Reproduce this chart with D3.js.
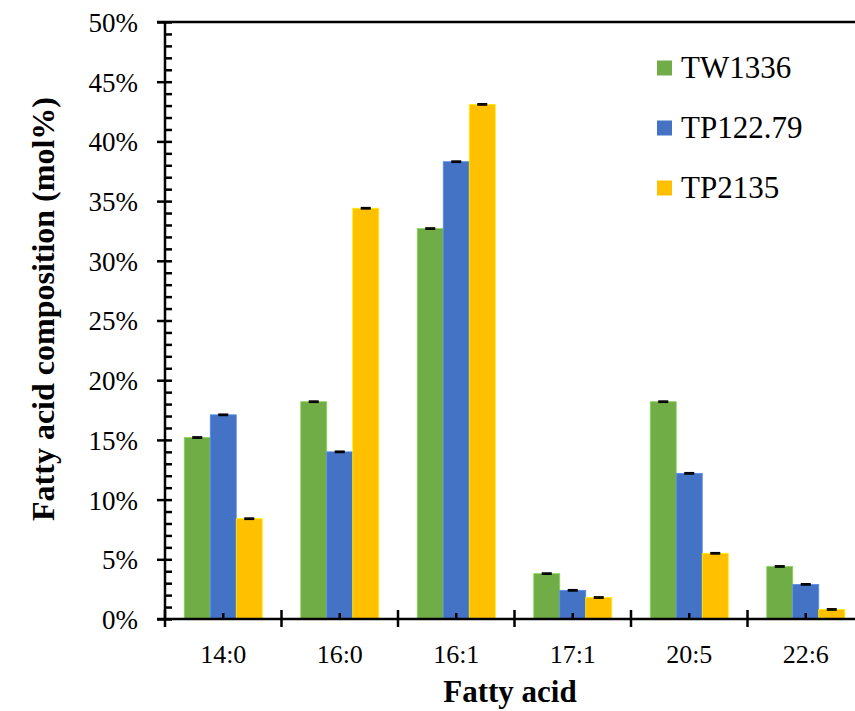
<!DOCTYPE html>
<html>
<head>
<meta charset="utf-8">
<script src="https://cdn.jsdelivr.net/npm/d3@7"></script>
<style>
  html, body { margin: 0; padding: 0; background: #fff; }
  svg text { font-family: "Liberation Serif", "Times New Roman", serif; }
  .axis path { display: none; }
  .axis line { stroke: #000; stroke-width: 2.5; }
  .tick-label text { fill: #000; font-size: 27px; font-family: "Liberation Serif", "Times New Roman", serif; }
</style>
</head>
<body>
<svg id="chart" width="855" height="711"></svg>
<script>
const FONT = "Liberation Serif, Times New Roman, serif";
const categories = ["14:0", "16:0", "16:1", "17:1", "20:5", "22:6"];
const seriesNames = ["TW1336", "TP122.79", "TP2135"];
const seriesColors = ["#70AD47", "#4472C4", "#FFC000"];

// mol% values
const tw1336 = [15.2, 18.2, 32.7, 3.8, 18.2, 4.4];
const tp12279 = [17.1, 14.0, 38.3, 2.4, 12.2, 2.9];
const tp2135 = [8.4, 34.4, 43.1, 1.8, 5.5, 0.8];

// error bars are tiny, just visible as caps
const errTw1336 = [0.05, 0.05, 0.05, 0.05, 0.05, 0.05];
const errTp12279 = [0.05, 0.05, 0.05, 0.05, 0.05, 0.05];
const errTp2135 = [0.05, 0.05, 0.05, 0.05, 0.05, 0.05];

const yMajorTicks = [0, 5, 10, 15, 20, 25, 30, 35, 40, 45, 50];
const yMinorTicks = d3.range(0, 51, 1);

const values = [tw1336, tp12279, tp2135];
const errors = [errTw1336, errTp12279, errTp2135];

const rows = [];
categories.forEach((cat, i) => {
  seriesNames.forEach((name, s) => {
    rows.push({ cat, name, color: seriesColors[s], value: values[s][i], err: errors[s][i] });
  });
});

const svg = d3.select("#chart");
const W = 855;
const axisX = 165, axisY = 619, topY = 22;

const y = d3.scaleLinear().domain([0, 50]).range([axisY, topY]);

const x0 = d3.scaleBand()
  .domain(categories)
  .range([axisX, axisX + 6 * 116.5])
  .padding(0);

const x1 = d3.scaleBand()
  .domain(seriesNames)
  .range([0, x0.bandwidth()])
  .paddingInner(0)
  .paddingOuter(0.74);

// bars
svg.append("g")
  .selectAll("rect")
  .data(rows)
  .join("rect")
  .attr("x", d => x0(d.cat) + x1(d.name))
  .attr("y", d => y(d.value))
  .attr("width", x1.bandwidth())
  .attr("height", d => y(0) - y(d.value))
  .attr("fill", d => d.color)
  .attr("stroke", d => d3.color(d.color).brighter(0.6))
  .attr("stroke-width", 0.8);

// error bars
const eb = svg.append("g").attr("stroke", "#000").attr("stroke-width", 1.6);
rows.forEach(d => {
  const cx = x0(d.cat) + x1(d.name) + x1.bandwidth() / 2;
  [d.value + d.err, d.value - d.err].forEach(v => {
    eb.append("line")
      .attr("x1", cx - 5).attr("x2", cx + 5)
      .attr("y1", y(v)).attr("y2", y(v));
  });
  eb.append("line")
    .attr("x1", cx).attr("x2", cx)
    .attr("y1", y(d.value + d.err)).attr("y2", y(d.value - d.err));
});

// top border line at 50%
svg.append("line")
  .attr("x1", 157).attr("x2", W)
  .attr("y1", y(50)).attr("y2", y(50))
  .attr("stroke", "#000").attr("stroke-width", 2.5);

// y axis: major ticks crossing, labels on the left
svg.append("g")
  .attr("class", "axis tick-label")
  .attr("transform", `translate(${axisX},0)`)
  .call(d3.axisLeft(y).tickValues(yMajorTicks).tickSize(8).tickPadding(19).tickFormat(d => d + "%"))
  .call(g => g.attr("font-family", FONT).selectAll("text").attr("dy", "0.35em"));

svg.append("g")
  .attr("class", "axis")
  .attr("transform", `translate(${axisX},0)`)
  .call(d3.axisRight(y).tickValues(yMinorTicks).tickSize(7).tickFormat(""));

svg.append("line")
  .attr("x1", axisX).attr("x2", axisX)
  .attr("y1", y(0) + 1).attr("y2", y(50))
  .attr("stroke", "#000").attr("stroke-width", 2.5);

// x axis line
svg.append("line")
  .attr("x1", 157).attr("x2", W)
  .attr("y1", axisY).attr("y2", axisY)
  .attr("stroke", "#000").attr("stroke-width", 2.5);

// small ticks at category centres, pointing up
svg.append("g")
  .attr("class", "axis")
  .attr("transform", `translate(0,${axisY})`)
  .call(d3.axisTop(x0).tickSize(6).tickFormat(""));

// category labels
svg.append("g")
  .attr("class", "axis tick-label")
  .attr("transform", `translate(0,${axisY})`)
  .call(d3.axisBottom(x0).tickSize(0))
  .call(g => g.attr("font-family", FONT).selectAll("text").attr("y", 44).attr("dy", 0).style("font-size", "26px"));

// boundary ticks crossing the axis
const bounds = categories.map(c => x0(c)).concat([x0(categories[5]) + x0.step()]).filter(v => v <= W);
svg.append("g")
  .selectAll("line")
  .data(bounds)
  .join("line")
  .attr("x1", d => d).attr("x2", d => d)
  .attr("y1", axisY - 9).attr("y2", axisY + 8)
  .attr("stroke", "#000").attr("stroke-width", 2.5);

// axis titles
svg.append("text")
  .attr("x", 510)
  .attr("y", 702)
  .attr("text-anchor", "middle")
  .attr("font-family", FONT)
  .attr("font-weight", "bold")
  .attr("font-size", 31)
  .text("Fatty acid");

svg.append("text")
  .attr("transform", "translate(54,309) rotate(-90)")
  .attr("text-anchor", "middle")
  .attr("font-family", FONT)
  .attr("font-weight", "bold")
  .attr("font-size", 32)
  .text("Fatty acid composition (mol%)");

// legend
const legend = svg.append("g")
  .selectAll("g")
  .data(seriesNames)
  .join("g")
  .attr("transform", (d, i) => `translate(657,${68 + i * 60})`);

legend.append("rect")
  .attr("x", 0).attr("y", -7.5)
  .attr("width", 15).attr("height", 15)
  .attr("fill", (d, i) => seriesColors[i]);

legend.append("text")
  .attr("x", 24)
  .attr("y", 10)
  .attr("font-family", FONT)
  .attr("font-size", 31)
  .text(d => d);
</script>
</body>
</html>
